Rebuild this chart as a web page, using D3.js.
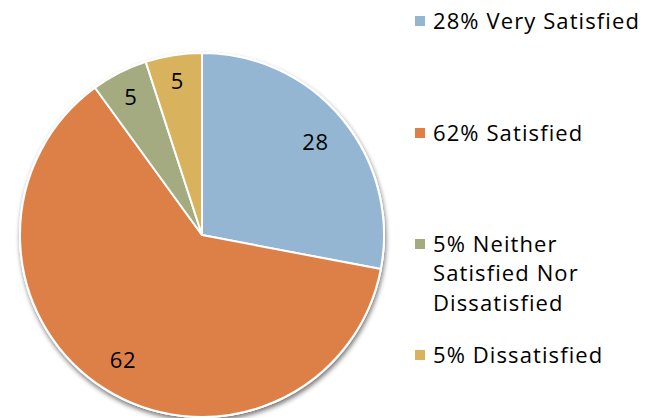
<!DOCTYPE html>
<html>
<head>
<meta charset="utf-8">
<script src="https://cdn.jsdelivr.net/npm/d3@7"></script>
<style>
  body { margin: 0; background: #fff; }
  svg { display: block; }
  text { font-family: "Open Sans", "DejaVu Sans", sans-serif; fill: #000; }
</style>
</head>
<body>
<svg id="chart" width="660" height="418"></svg>
<script>
const categories = ["Very Satisfied", "Satisfied", "Neither Satisfied Nor Dissatisfied", "Dissatisfied"];
const values = [28, 62, 5, 5];
const colors = ["#94B6D2", "#DD8047", "#A5AB81", "#D8B25C"];
// legend lines, wrapped like the original
const legendLines = [
    ["28% Very Satisfied"],
    ["62% Satisfied"],
    ["5% Neither", "Satisfied Nor", "Dissatisfied"],
    ["5% Dissatisfied"]
];
const legendBaselines = [29, 141, 252, 363];

const svg = d3.select("#chart");
const cx = 202, cy = 235, radius = 182;

const defs = svg.append("defs");
const shadow = defs.append("filter")
    .attr("id", "shadow")
    .attr("x", "-10%").attr("y", "-10%")
    .attr("width", "120%").attr("height", "120%");
shadow.append("feGaussianBlur").attr("in", "SourceAlpha").attr("stdDeviation", 2.5);
shadow.append("feOffset").attr("dx", 1).attr("dy", 3).attr("result", "blur");
shadow.append("feComponentTransfer").append("feFuncA").attr("type", "linear").attr("slope", 0.55);
const merge = shadow.append("feMerge");
merge.append("feMergeNode");
merge.append("feMergeNode").attr("in", "SourceGraphic");

const pie = d3.pie().sort(null).value(d => d);
const arcs = pie(values);

const arc = d3.arc().innerRadius(0).outerRadius(radius);
// thin slices get their labels pushed a bit further out
const labelPos = d => {
    const k = (d.endAngle - d.startAngle) < 0.5 ? 0.86 : 0.81;
    return d3.arc().innerRadius(radius * k).outerRadius(radius * k).centroid(d);
};

const g = svg.append("g").attr("transform", `translate(${cx},${cy})`);

g.append("circle")
    .attr("r", radius + 1)
    .attr("fill", "#fff")
    .attr("filter", "url(#shadow)");

g.selectAll("path")
    .data(arcs)
    .join("path")
    .attr("d", arc)
    .attr("fill", (d, i) => colors[i])
    .attr("stroke", "#fff")
    .attr("stroke-width", 2)
    .attr("stroke-linejoin", "round");

g.selectAll("text.val")
    .data(arcs)
    .join("text")
    .attr("class", "val")
    .attr("transform", d => `translate(${labelPos(d)})`)
    .attr("text-anchor", "middle")
    .attr("dominant-baseline", "central")
    .attr("font-size", 22)
    .attr("letter-spacing", 0.8)
    .text(d => d.data);

// legend
const legend = svg.append("g");
legendLines.forEach((lines, i) => {
    const y0 = legendBaselines[i];
    legend.append("rect")
        .attr("x", 415).attr("y", y0 - 13)
        .attr("width", 10).attr("height", 10)
        .attr("fill", colors[i]);
    const t = legend.append("text")
        .attr("x", 433).attr("y", y0)
        .attr("font-size", 22)
        .attr("letter-spacing", 1.1);
    lines.forEach((ln, j) => {
        t.append("tspan").attr("x", 433).attr("y", y0 + j * 29.3).text(ln);
    });
});
</script>
</body>
</html>
